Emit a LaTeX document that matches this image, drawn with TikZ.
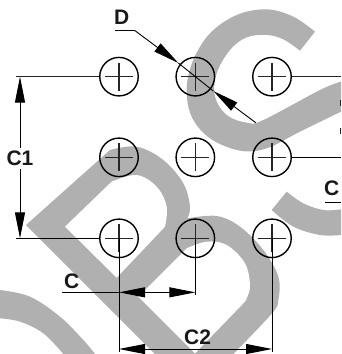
\documentclass[tikz,border=0pt]{standalone}
\usepackage{fontspec}
\setmainfont{Liberation Sans}
\usetikzlibrary{arrows.meta}
\definecolor{wm}{HTML}{B0B0B0}
\tikzset{
  hole/.style={circle,draw=black,line width=1.4pt,minimum size=38.5pt,inner sep=0pt,fill=none},
  dimline/.style={black,line width=0.9pt},
  tick/.style={black!85,line width=1.1pt},
  arrowline/.style={black,line width=0.9pt,{Triangle[length=26pt,width=10pt]}-{Triangle[length=26pt,width=10pt]}},
  oneend/.style={black,line width=0.9pt,-{Triangle[length=26pt,width=10pt]}},
  lbl/.style={font=\bfseries\fontsize{21}{21}\selectfont,inner sep=0pt,text=black!90},
}
\begin{document}
\begin{tikzpicture}[x=0.3333pt,y=-0.3333pt]
\useasboundingbox (0,0) rectangle (1023,1062);
\clip (0,0) rectangle (1023,1062);
% watermark
\fill[wm] plot[smooth,tension=0.6] coordinates {(945,95) (880,50) (800,28) (710,45) (630,100) (580,180) (560,265) (575,350) (630,415) (720,452) (800,445) (900,395) (1023,335)}
  -- plot[smooth,tension=0.6] coordinates {(1023,245) (960,270) (790,360) (740,368) (680,345) (645,290) (650,220) (690,150) (740,112) (800,105) (850,118) (900,152)} -- cycle;
\fill[wm] plot[smooth,tension=0.6] coordinates {(0,870) (90,890) (180,950) (250,1020) (285,1062)}
  -- plot[smooth,tension=0.6] coordinates {(190,1062) (130,1000) (60,965) (0,955)} -- cycle;
\fill[wm] plot[smooth,tension=0.6] coordinates {(815,630) (880,680) (960,705) (1023,705)}
  -- plot[smooth,tension=0.6] coordinates {(1023,628) (970,630) (910,610) (860,575)} -- cycle;
\fill[wm] (78,675) -- plot[smooth,tension=0.6] coordinates {(330,450) (410,440) (490,480) (550,550) (570,620) (562,655)}
  -- plot[smooth,tension=0.6] coordinates {(562,655) (650,648) (720,680) (790,750) (835,830) (835,900) (816,940) (700,1062)}
  -- (465,1062) -- cycle;
\fill[white] (195,680) -- plot[smooth,tension=0.6] coordinates {(335,545) (410,525) (470,560) (500,620) (495,680)} -- (350,833) -- cycle;
\fill[white] (415,890) -- plot[smooth,tension=0.6] coordinates {(560,745) (620,725) (680,735) (735,790) (750,860) (735,905)} -- (585,1060) -- cycle;
% holes
\foreach \n/\x/\y in {a/357/230,b/586/230,c/816/230,d/357/472,e/586/472,f/816/472,g/357/715,h/586/715,i/816/715}{
  \node[hole] (\n) at (\x,\y) {};
  \draw[tick] (\x-42,\y) -- (\x+42,\y);
  \draw[tick] (\x,\y-42) -- (\x,\y+42);
}
% named anchors
\coordinate (c1top) at (48,230);
\coordinate (c1bot) at (48,715);
\coordinate (c1a) at (60,230);
\coordinate (c1b) at (60,715);
\coordinate (cbase) at (357,877);
\coordinate (cright) at (586,877);
\coordinate (c2base) at (357,1047);
\coordinate (c2right) at (816,1047);
\coordinate (rtop) at (1023,230);
\coordinate (rmid) at (1023,472);
\coordinate (dstart) at (345,92);
\coordinate (dk) at (405,92);
\coordinate (dend) at (767,368);
\draw[tick] (c1top) -- (a.west);
\draw[dimline] (c1bot) -- (g.west);
\draw[tick] (c.east) -- (rtop);
\draw[dimline] (f.east) -- (rmid);
\draw[arrowline] (c1a) -- (c1b);
\draw[dimline] (g.center) -- (357,1055);
\draw[dimline] (h.center) -- (586,885);
\draw[dimline] (i.center) -- (816,1055);
\draw[arrowline] (cbase) -- (cright);
\draw[arrowline] (c2base) -- (c2right);
\draw[dimline] (187,877) -- (cbase);
\draw[dimline] (dstart) -- (dk);
\draw[oneend] (dk) -- (535,189);
\draw[dimline] (535,189) -- (640,273);
\draw[oneend] (dend) -- (640,273);
% labels
\node[lbl,fill=white,inner ysep=3pt,inner xsep=2pt] (lc1) at (60,475) {C1};
\node[lbl] (ld) at (365,51) {D};
\node[lbl] (lc) at (215,844) {C};
\node[lbl] (lc2) at (593,1013) {C2};
\node[lbl] (lcr) at (995,564) {C};
\draw[dimline] (975,607) -- (1023,607);
% letter fragments cut off by the right edge
\fill[black!85] (1019,300) rectangle (1023,318);
\fill[black!85] (1019,384) rectangle (1023,402);
\end{tikzpicture}
\end{document}
